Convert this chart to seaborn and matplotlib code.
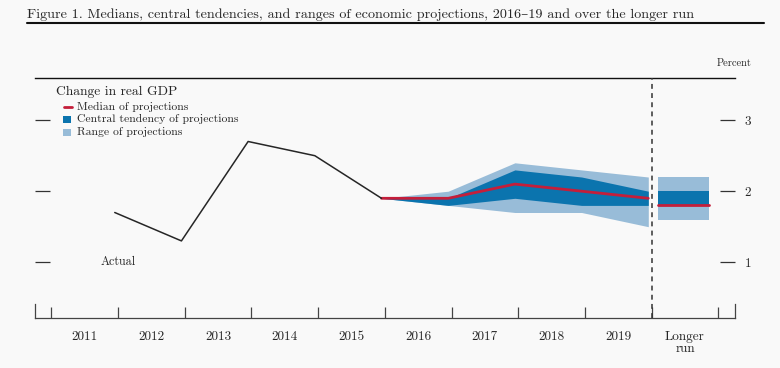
import matplotlib
matplotlib.use("Agg")
import matplotlib.pyplot as plt
import numpy as np
import pandas as pd
import seaborn as sns
from matplotlib.lines import Line2D
from matplotlib.patches import Rectangle

# --- data -------------------------------------------------------------
categories = ["2011", "2012", "2013", "2014", "2015", "2016", "2017", "2018", "2019", "Longer\nrun"]

actual_years = ["2011", "2012", "2013", "2014", "2015"]
actual_values = [1.7, 1.3, 2.7, 2.5, 1.9]

proj_years = ["2015", "2016", "2017", "2018", "2019"]
median_values = [1.9, 1.9, 2.1, 2.0, 1.9]
central_low = [1.9, 1.8, 1.9, 1.8, 1.8]
central_high = [1.9, 1.9, 2.3, 2.2, 2.0]
range_low = [1.9, 1.8, 1.7, 1.7, 1.5]
range_high = [1.9, 2.0, 2.4, 2.3, 2.2]

longer_run_median = 1.8
longer_run_central = (1.8, 2.0)
longer_run_range = (1.6, 2.2)

y_ticks = [1, 2, 3]

# --- style --------------------------------------------------------------
BG = "#f9f9f9"
DARK = "#0b74ae"
LIGHT = "#98bcd8"
RED = "#c41e3a"
INK = "#262626"

sns.set_theme(style="white")
plt.rcParams["font.family"] = ["cmr10", "DejaVu Serif"]
plt.rcParams["axes.formatter.use_mathtext"] = True
plt.rcParams["text.color"] = INK

W, H = 780, 368


def fx(px):
    return px / W


def fy(py):
    return 1 - py / H


pos = {c.split("\n")[0]: i for i, c in enumerate(categories)}
shift = 0.45  # observations sit near year end

actual = pd.DataFrame({"x": [pos[y] + shift for y in actual_years], "value": actual_values})
proj = pd.DataFrame({
    "x": [pos[y] + shift for y in proj_years],
    "median": median_values,
    "ct_lo": central_low,
    "ct_hi": central_high,
    "rg_lo": range_low,
    "rg_hi": range_high,
})

fig = plt.figure(figsize=(W / 100, H / 100), dpi=100, facecolor=BG)
ax = fig.add_axes([fx(34.7), fy(318.3), fx(735) - fx(34.7), fy(78.3) - fy(318.3)])
ax.set_facecolor(BG)

ymin, ymax = 0.21, 3.59
ax.set_xlim(-0.75, 9.75)
ax.set_ylim(ymin, ymax)

# projection bands
ax.fill_between(proj["x"], proj["rg_lo"], proj["rg_hi"], color=LIGHT, lw=0, zorder=1)
ax.fill_between(proj["x"], proj["ct_lo"], proj["ct_hi"], color=DARK, lw=0, zorder=2)
sns.lineplot(data=proj, x="x", y="median", color=RED, lw=2.0, ax=ax, zorder=3)

# longer run box
lr_x = [8.6, 9.36]
ax.fill_between(lr_x, [longer_run_range[0]] * 2, [longer_run_range[1]] * 2, color=LIGHT, lw=0, zorder=1)
ax.fill_between(lr_x, [longer_run_central[0]] * 2, [longer_run_central[1]] * 2, color=DARK, lw=0, zorder=2)
ax.plot(lr_x, [longer_run_median] * 2, color=RED, lw=2.0, zorder=3)

# actual
sns.lineplot(data=actual, x="x", y="value", color=INK, lw=1.1, ax=ax, zorder=4)
ax.text(pos["2011"] + 0.5, 1.0, "Actual", ha="center", va="center", fontsize=8.7)

# dashed separator
ax.axvline(8.5, color="#333333", lw=1.1, ls=(0, (3.2, 2.8)), zorder=5)

# spines
for side in ["left", "right"]:
    ax.spines[side].set_bounds(ymin, ymin + 0.2)
    ax.spines[side].set_color("#444444")
    ax.spines[side].set_linewidth(0.9)
ax.spines["top"].set_color("#111111")
ax.spines["top"].set_linewidth(1.0)
ax.spines["bottom"].set_color("#444444")
ax.spines["bottom"].set_linewidth(0.9)

# x axis: labels at centres, ticks at boundaries
ax.set_xticks(range(len(categories)))
ax.set_xticklabels(categories, fontsize=9.5, linespacing=1.0)
ax.set_xticks(np.arange(len(categories) + 1) - 0.5, minor=True)
ax.tick_params(axis="x", which="major", length=0, pad=9, colors=INK)
ax.tick_params(axis="x", which="minor", direction="in", length=8, width=0.9,
               color="#444444", bottom=True)

# y axis: tick dashes both sides, labels on the right
ax.set_yticks(y_ticks)
ax.set_yticklabels([str(v) for v in y_ticks], fontsize=9.5)
ax.tick_params(axis="y", which="major", direction="in", length=11, width=0.9,
               color="#333333", left=True, right=True, labelleft=False,
               labelright=True, pad=7, labelcolor=INK)
ax.set_xlabel("")
ax.set_ylabel("")
ax.grid(False)

# legend (manual, as in the original)
fig.text(fx(56), fy(92), "Change in real GDP", fontsize=9.8, va="center", ha="left")
fig.add_artist(Line2D([fx(64), fx(72)], [fy(106.7)] * 2, color=RED, lw=2.0))
fig.add_artist(Rectangle((fx(63.3), fy(123)), fx(7.4), fy(115.6) - fy(123), color=DARK, lw=0))
fig.add_artist(Rectangle((fx(63.3), fy(136)), fx(7.4), fy(128.6) - fy(136), color=LIGHT, lw=0))
for yy, label in [(106.7, "Median of projections"),
                  (119.3, "Central tendency of projections"),
                  (132.3, "Range of projections")]:
    fig.text(fx(76.7), fy(yy), label, fontsize=8.4, va="center", ha="left")

# title and header
fig.text(fx(27), fy(15), "Figure 1. Medians, central tendencies, and ranges of economic projections, 2016\u201319 and over the longer run",
         fontsize=10.2, va="center", ha="left")
fig.add_artist(Line2D([fx(27), fx(764)], [fy(23.3)] * 2, color="#111111", lw=1.5))
fig.text(fx(752), fy(63.3), "Percent", fontsize=7.5, va="center", ha="right")

fig.savefig("out.png", dpi=100, facecolor=BG)
